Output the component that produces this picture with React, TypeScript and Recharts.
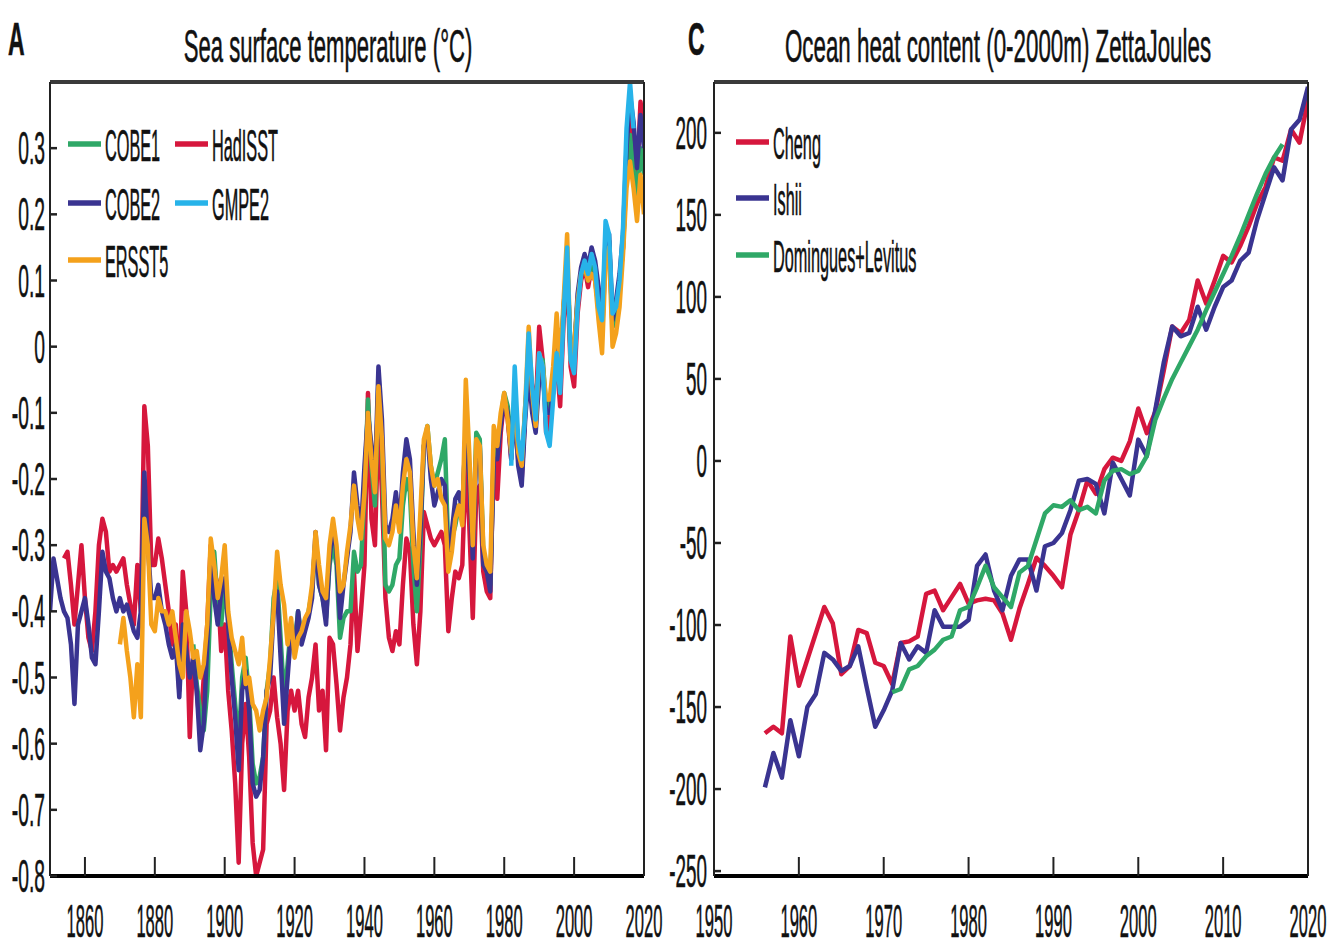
import React from "react";
import { LineChart, Line, XAxis, YAxis } from "recharts";

const FONT = '"Liberation Sans", Arial, Helvetica, sans-serif';

// ---- panel A: sea surface temperature anomaly (°C), 1850-2020 ----
const SST_FIRST_YEAR = 1850;
const SST_X_TICKS = [1860, 1880, 1900, 1920, 1940, 1960, 1980, 2000, 2020];
const SST_Y_TICKS = [-0.8, -0.7, -0.6, -0.5, -0.4, -0.3, -0.2, -0.1, 0, 0.1, 0.2, 0.3];

const COBE2 = [
  -0.40, -0.32, -0.35, -0.38, -0.40, -0.41, -0.45, -0.54, -0.42, -0.40,
  -0.38, -0.42, -0.47, -0.48, -0.40, -0.31, -0.34, -0.35, -0.38, -0.40,
  -0.38, -0.40, -0.39, -0.41, -0.43, -0.44, -0.40, -0.19, -0.30, -0.38,
  -0.38, -0.36, -0.40, -0.42, -0.45, -0.47, -0.45, -0.53, -0.42, -0.46,
  -0.50, -0.47, -0.52, -0.61, -0.57, -0.45, -0.31, -0.38, -0.42, -0.37,
  -0.35, -0.42, -0.50, -0.56, -0.64, -0.52, -0.49, -0.55, -0.66, -0.68,
  -0.67, -0.62, -0.52, -0.50, -0.40, -0.37, -0.47, -0.57, -0.50, -0.43,
  -0.46, -0.40, -0.45, -0.43, -0.41, -0.38, -0.28, -0.36, -0.38, -0.42,
  -0.32, -0.27, -0.31, -0.41, -0.36, -0.32, -0.28, -0.19, -0.24, -0.28,
  -0.18, -0.10, -0.15, -0.20, -0.03, -0.11, -0.27, -0.28, -0.26, -0.22,
  -0.27, -0.19, -0.14, -0.17, -0.28, -0.36, -0.28, -0.15, -0.13, -0.20,
  -0.24, -0.22, -0.20, -0.21, -0.33, -0.28, -0.23, -0.22, -0.25, -0.12,
  -0.19, -0.32, -0.16, -0.15, -0.33, -0.34, -0.37, -0.17, -0.17, -0.12,
  -0.08, -0.10, -0.17, -0.09, -0.18, -0.21, -0.11, -0.04, -0.10, -0.13,
  -0.05, -0.04, -0.10, -0.10, -0.07, 0.00, -0.05, 0.06, 0.13, -0.01,
  -0.01, 0.08, 0.12, 0.14, 0.12, 0.15, 0.13, 0.09, 0.04, 0.16,
  0.17, 0.04, 0.07, 0.11, 0.17, 0.30, 0.38, 0.34, 0.27, 0.35,
  0.30,
];

const HADISST = [
  null, null, null, null, -0.32, -0.31, -0.36, -0.42, -0.36, -0.30,
  -0.38, -0.44, -0.46, -0.40, -0.30, -0.26, -0.28, -0.34, -0.33, -0.34,
  -0.33, -0.32, -0.36, -0.39, -0.42, -0.33, -0.40, -0.09, -0.15, -0.33,
  -0.33, -0.29, -0.32, -0.36, -0.40, -0.45, -0.42, -0.52, -0.34, -0.40,
  -0.59, -0.46, -0.52, -0.58, -0.50, -0.42, -0.30, -0.34, -0.36, -0.46,
  -0.42, -0.52, -0.58, -0.66, -0.78, -0.60, -0.54, -0.62, -0.75, -0.80,
  -0.78, -0.76, -0.57, -0.55, -0.50, -0.56, -0.60, -0.67, -0.55, -0.52,
  -0.55, -0.52, -0.57, -0.59, -0.53, -0.50, -0.45, -0.55, -0.52, -0.61,
  -0.44, -0.45, -0.51, -0.58, -0.53, -0.50, -0.45, -0.34, -0.46, -0.40,
  -0.33, -0.07, -0.26, -0.30, -0.11, -0.22, -0.38, -0.44, -0.46, -0.43,
  -0.45, -0.36, -0.29, -0.31, -0.42, -0.48, -0.40, -0.25, -0.27, -0.29,
  -0.30, -0.29, -0.28, -0.30, -0.43, -0.38, -0.34, -0.35, -0.33, -0.17,
  -0.27, -0.41, -0.22, -0.21, -0.34, -0.37, -0.38, -0.15, -0.23, -0.13,
  -0.08, -0.11, -0.17, -0.08, -0.17, -0.20, -0.10, -0.02, -0.06, -0.10,
  0.03, -0.02, -0.13, -0.11, -0.05, -0.02, -0.09, 0.04, 0.11, -0.03,
  -0.06, 0.05, 0.10, 0.12, 0.09, 0.12, 0.10, 0.06, 0.02, 0.14,
  0.16, 0.03, 0.06, 0.09, 0.15, 0.28, 0.36, 0.30, 0.25, 0.37,
  0.33,
];

const ERSST5 = [
  null, null, null, null, null, null, null, null, null, null,
  null, null, null, null, null, null, null, null, null, null,
  -0.45, -0.41, -0.46, -0.50, -0.56, -0.48, -0.56, -0.26, -0.30, -0.42,
  -0.43, -0.38, -0.40, -0.40, -0.42, -0.40, -0.44, -0.48, -0.50, -0.40,
  -0.43, -0.47, -0.46, -0.50, -0.48, -0.42, -0.29, -0.33, -0.38, -0.35,
  -0.30, -0.40, -0.44, -0.46, -0.48, -0.44, -0.51, -0.50, -0.54, -0.55,
  -0.58, -0.55, -0.53, -0.47, -0.40, -0.31, -0.36, -0.39, -0.45, -0.41,
  -0.47, -0.44, -0.43, -0.41, -0.40, -0.36, -0.28, -0.33, -0.37, -0.38,
  -0.30, -0.26, -0.30, -0.37, -0.36, -0.31, -0.27, -0.21, -0.26, -0.29,
  -0.22, -0.10, -0.17, -0.22, -0.06, -0.14, -0.29, -0.30, -0.28, -0.24,
  -0.28, -0.21, -0.17, -0.19, -0.30, -0.35, -0.25, -0.14, -0.12, -0.18,
  -0.21, -0.20, -0.23, -0.24, -0.34, -0.31, -0.26, -0.24, -0.27, -0.05,
  -0.16, -0.30, -0.14, -0.15, -0.30, -0.33, -0.34, -0.12, -0.15, -0.10,
  -0.07, -0.11, -0.16, -0.07, -0.16, -0.18, -0.09, 0.03, -0.07, -0.12,
  -0.01, -0.03, -0.08, -0.08, -0.03, 0.05, -0.03, 0.07, 0.17, -0.02,
  0.00, 0.07, 0.11, 0.12, 0.10, 0.11, 0.10, 0.04, -0.01, 0.13,
  0.15, 0.00, 0.02, 0.06, 0.14, 0.24, 0.28, 0.24, 0.19, 0.26,
  0.20,
];

const COBE1 = [
  null, null, null, null, null, null, null, null, null, null,
  null, null, null, null, null, null, null, null, null, null,
  null, null, null, null, null, null, null, null, null, null,
  null, null, null, null, null, null, null, null, null, null,
  null, -0.45, -0.51, -0.55, -0.58, -0.52, -0.37, -0.31, -0.39, -0.42,
  -0.36, -0.41, -0.48, -0.54, -0.60, -0.50, -0.47, -0.53, -0.63, -0.66,
  -0.65, -0.62, -0.52, -0.48, -0.38, -0.35, -0.44, -0.53, -0.48, -0.42,
  -0.45, -0.40, -0.44, -0.42, -0.40, -0.37, -0.29, -0.36, -0.38, -0.41,
  -0.33, -0.30, -0.33, -0.44, -0.41, -0.40, -0.40, -0.31, -0.34, -0.33,
  -0.22, -0.08, -0.18, -0.24, -0.05, -0.14, -0.36, -0.37, -0.36, -0.33,
  -0.32, -0.24, -0.20, -0.22, -0.33, -0.40, -0.30, -0.15, -0.12, -0.18,
  -0.21, -0.19, -0.17, -0.14, -0.31, -0.29, -0.27, -0.24, -0.25, -0.12,
  -0.18, -0.30, -0.13, -0.14, -0.31, -0.34, -0.36, -0.16, -0.16, -0.11,
  -0.07, -0.09, -0.15, -0.07, -0.16, -0.19, -0.09, -0.03, -0.08, -0.12,
  -0.02, -0.02, -0.09, -0.09, -0.06, 0.01, -0.04, 0.06, 0.13, -0.01,
  -0.01, 0.07, 0.11, 0.12, 0.10, 0.12, 0.12, 0.05, 0.03, 0.15,
  0.16, 0.03, 0.05, 0.09, 0.15, 0.26, 0.32, 0.27, 0.23, 0.30,
  0.26,
];

// GMPE2 only covers 1982-2017
const GMPE2_FIRST_YEAR = 1982;
const GMPE2 = [
  -0.18, -0.03, -0.14, -0.17, -0.10, 0.02, -0.06, -0.11,
  -0.01, -0.03, -0.13, -0.15, -0.08, -0.01, -0.07, 0.05, 0.15, -0.02,
  -0.04, 0.06, 0.11, 0.13, 0.11, 0.14, 0.12, 0.06, 0.04, 0.19,
  0.17, 0.05, 0.06, 0.10, 0.18, 0.33, 0.40, 0.33,
];

// ---- panel C: ocean heat content 0-2000m (ZJ), 1956-2020 ----
const OHC_FIRST_YEAR = 1956;
const OHC_X_TICKS = [1950, 1960, 1970, 1980, 1990, 2000, 2010, 2020];
const OHC_Y_TICKS = [-250, -200, -150, -100, -50, 0, 50, 100, 150, 200];

const CHENG = [
  -166, -162, -166, -107,
  -137, -121, -105, -89, -99, -130, -125, -103, -105, -123,
  -125, -136, -111, -110, -107, -81, -79, -91, -83, -75,
  -87, -85, -84, -85, -93, -109, -90, -75, -59, -64,
  -70, -77, -45, -30, -12, -20, -5, 2, 0, 12,
  32, 17, 30, 55, 82, 78, 86, 110, 96, 110,
  125, 121, 131, 143, 157, 167, 185, 183, 202, 194,
  220,
];

const ISHII = [
  -199, -178, -193, -158,
  -180, -150, -142, -117, -121, -128, -125, -113, -138, -162,
  -152, -140, -111, -121, -113, -117, -91, -101, -101, -101,
  -97, -64, -57, -79, -91, -70, -60, -60, -79, -52,
  -50, -44, -30, -12, -11, -14, -32, -1, -11, -21,
  13, 3, 31, 60, 82, 76, 78, 94, 80, 94,
  106, 110, 122, 127, 147, 163, 179, 171, 202, 208,
  228,
];

const DOMINGUES_LEVITUS = [
  null, null, null, null,
  null, null, null, null, null, null, null, null, null, null,
  null, -141, -139, -127, -125, -119, -115, -109, -107, -91,
  -89, -77, -64, -77, -83, -89, -68, -64, -48, -32,
  -27, -28, -24, -30, -28, -32, -12, -6, -5, -8,
  -6, 3, 25, 38, 50, 60, 70, 80, 92, 103,
  114, 125, 137, 150, 163, 175, 185, 193, null, null,
  null,
];

const RED = "#d6173d";
const NAVY = "#3a3491";
const GREEN = "#2fa867";
const ORANGE = "#f4a11c";
const SKY = "#27b3e9";

const sstData = COBE2.map((v, i) => {
  const year = SST_FIRST_YEAR + i;
  const g = year - GMPE2_FIRST_YEAR;
  return {
    year,
    COBE1: COBE1[i],
    COBE2: v,
    ERSST5: ERSST5[i],
    HadISST: HADISST[i],
    GMPE2: g >= 0 && g < GMPE2.length ? GMPE2[g] : null,
  };
});

const ohcData = CHENG.map((v, i) => ({
  year: OHC_FIRST_YEAR + i,
  Cheng: v,
  Ishii: ISHII[i],
  DL: DOMINGUES_LEVITUS[i],
}));

// squeezed text, the figure's lettering is tall and narrow
function Txt({ x, y, size, sx, anchor = "start", bold = false, children }: any) {
  return (
    <text
      transform={`translate(${x},${y}) scale(${sx},1)`}
      fontSize={size}
      fontFamily={FONT}
      fontWeight={bold ? "bold" : "normal"}
      textAnchor={anchor}
      fill="#111"
      stroke="#111"
      strokeWidth={0.6}
    >
      {children}
    </text>
  );
}

const xTick = (p: any) => (
  <Txt x={p.x} y={p.y + 80} size={46} sx={0.36} anchor="middle">
    {p.payload.value}
  </Txt>
);

const yTickA = (p: any) => (
  <Txt x={p.x - 12} y={p.y + 16} size={46} sx={0.42} anchor="end">
    {p.payload.value}
  </Txt>
);

const yTickC = (p: any) => (
  <Txt x={p.x - 14} y={p.y + 16} size={46} sx={0.41} anchor="end">
    {p.payload.value}
  </Txt>
);

const lineProps = {
  type: "linear" as const,
  dot: false,
  strokeWidth: 4.5,
  isAnimationActive: false,
  strokeLinejoin: "round" as const,
};

const LEGEND_A = [
  { name: "COBE1", color: GREEN, x: 68, y: 144 },
  { name: "HadISST", color: RED, x: 175, y: 144 },
  { name: "COBE2", color: NAVY, x: 68, y: 203 },
  { name: "GMPE2", color: SKY, x: 175, y: 203 },
  { name: "ERSST5", color: ORANGE, x: 68, y: 260 },
];

const LEGEND_C = [
  { name: "Cheng", color: RED, x: 736, y: 142 },
  { name: "Ishii", color: NAVY, x: 736, y: 198 },
  { name: "Domingues+Levitus", color: GREEN, x: 736, y: 255 },
];

function Frame({ id, domainX, ticksX, domainY, ticksY, yTick }: any) {
  return [
    <XAxis
      key={id + "b"}
      xAxisId="b"
      dataKey="year"
      type="number"
      domain={domainX}
      ticks={ticksX}
      allowDataOverflow
      height={40}
      tickSize={-19}
      tickMargin={0}
      interval={0}
      axisLine={{ stroke: "#000", strokeWidth: 4 }}
      tickLine={{ stroke: "#222", strokeWidth: 2 }}
      tick={xTick}
    />,
    <XAxis
      key={id + "t"}
      xAxisId="t"
      orientation="top"
      dataKey="year"
      type="number"
      domain={domainX}
      ticks={ticksX}
      allowDataOverflow
      height={1}
      tickSize={-20}
      interval={0}
      axisLine={{ stroke: "#3a3a3a", strokeWidth: 4 }}
      tickLine={{ stroke: "#222", strokeWidth: 2 }}
      tick={false}
    />,
    <YAxis
      key={id + "l"}
      yAxisId="l"
      type="number"
      domain={domainY}
      ticks={ticksY}
      allowDataOverflow
      width={40}
      tickSize={-7}
      tickMargin={0}
      interval={0}
      axisLine={{ stroke: "#222", strokeWidth: 2 }}
      tickLine={{ stroke: "#222", strokeWidth: 2.5 }}
      tick={yTick}
    />,
    <YAxis
      key={id + "r"}
      yAxisId="r"
      orientation="right"
      type="number"
      domain={domainY}
      ticks={ticksY}
      allowDataOverflow
      width={1}
      tickSize={-7}
      interval={0}
      axisLine={{ stroke: "#222", strokeWidth: 2 }}
      tickLine={{ stroke: "#222", strokeWidth: 2.5 }}
      tick={false}
    />,
  ];
}

export default function App() {
  return (
    <div style={{ position: "absolute", left: 0, top: 0, width: 1341, height: 946, background: "#fff" }}>
      <div style={{ position: "absolute", left: 0, top: 0 }}>
        <LineChart width={680} height={946} data={sstData} margin={{ top: 81, right: 35, bottom: 30, left: 10 }}>
          {Frame({ id: "a", domainX: [1850, 2020], ticksX: SST_X_TICKS, domainY: [-0.8, 0.4], ticksY: SST_Y_TICKS, yTick: yTickA })}
          <Line {...lineProps} xAxisId="b" yAxisId="l" dataKey="HadISST" stroke={RED} />
          <Line {...lineProps} xAxisId="b" yAxisId="l" dataKey="COBE1" stroke={GREEN} />
          <Line {...lineProps} xAxisId="b" yAxisId="l" dataKey="COBE2" stroke={NAVY} />
          <Line {...lineProps} xAxisId="b" yAxisId="l" dataKey="ERSST5" stroke={ORANGE} />
          <Line {...lineProps} xAxisId="b" yAxisId="l" dataKey="GMPE2" stroke={SKY} />
        </LineChart>
      </div>
      <div style={{ position: "absolute", left: 655, top: 0 }}>
        <LineChart width={686} height={946} data={ohcData} margin={{ top: 81, right: 32, bottom: 30, left: 19 }}>
          {Frame({ id: "c", domainX: [1950, 2020], ticksX: OHC_X_TICKS, domainY: [-253, 231], ticksY: OHC_Y_TICKS, yTick: yTickC })}
          <Line {...lineProps} xAxisId="b" yAxisId="l" dataKey="Cheng" stroke={RED} />
          <Line {...lineProps} xAxisId="b" yAxisId="l" dataKey="Ishii" stroke={NAVY} />
          <Line {...lineProps} xAxisId="b" yAxisId="l" dataKey="DL" stroke={GREEN} />
        </LineChart>
      </div>
      <svg width={1341} height={946} style={{ position: "absolute", left: 0, top: 0, pointerEvents: "none" }}>
        <Txt x={8} y={55} size={46} sx={0.5} bold>A</Txt>
        <Txt x={328} y={62} size={46} sx={0.48} anchor="middle">Sea surface temperature (°C)</Txt>
        <Txt x={688} y={55} size={46} sx={0.5} bold>C</Txt>
        <Txt x={998} y={62} size={46} sx={0.486} anchor="middle">Ocean heat content (0-2000m) ZettaJoules</Txt>
        {[...LEGEND_A, ...LEGEND_C].map((it) => (
          <g key={it.name}>
            <line x1={it.x} x2={it.x + 33} y1={it.y} y2={it.y} stroke={it.color} strokeWidth={5.5} />
            <Txt x={it.x + 37} y={it.y + 17} size={44} sx={0.37}>{it.name}</Txt>
          </g>
        ))}
      </svg>
    </div>
  );
}
